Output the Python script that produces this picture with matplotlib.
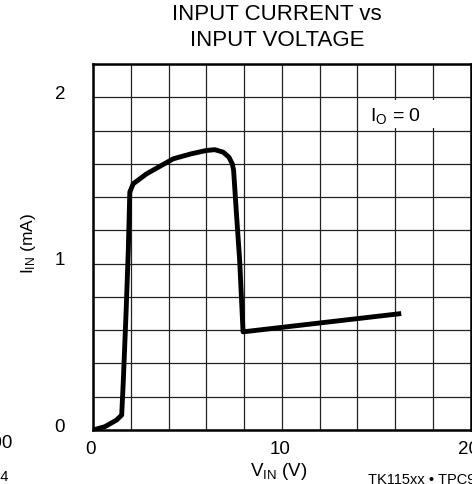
import matplotlib
matplotlib.use("Agg")
import matplotlib.pyplot as plt
import matplotlib.transforms as mtransforms
from matplotlib.patches import Rectangle

plt.rcParams['font.family'] = ['Liberation Sans', 'DejaVu Sans']
plt.rcParams['mathtext.fontset'] = 'custom'
plt.rcParams['mathtext.rm'] = 'Liberation Sans'
plt.rcParams['mathtext.it'] = 'Liberation Sans'

# Data (V_IN in volts, I_IN in mA)
v_in = [0.0, 0.63, 1.25, 1.52, 1.6, 1.75, 1.87, 1.95, 2.13, 2.84, 4.25, 5.2, 6.0,
        6.45, 6.9, 7.2, 7.38, 7.45, 7.6, 7.77, 7.95, 16.33]
i_in = [0.0, 0.02, 0.06, 0.09, 0.28, 0.70, 1.08, 1.43, 1.48, 1.54, 1.63, 1.66, 1.68,
        1.685, 1.67, 1.64, 1.60, 1.56, 1.30, 1.02, 0.59, 0.70]

x_ticks = [0, 10, 20]
y_ticks = [0, 1, 2]
x_grid = [0, 2, 4, 6, 8, 10, 12, 14, 16, 18, 20]
y_grid = [0, 0.2, 0.4, 0.6, 0.8, 1.0, 1.2, 1.4, 1.6, 1.8, 2.0, 2.2]

W, H = 472, 484
fig = plt.figure(figsize=(W / 100, H / 100), dpi=100)
ax = fig.add_axes([93 / W, 1 - 430 / H, 377.5 / W, 366 / H])

ax.set_xlim(0, 20)
ax.set_ylim(0, 2.2)
for xg in x_grid:
    ax.axvline(xg, color='#222222', lw=0.9, zorder=1)
for yg in y_grid:
    ax.axhline(yg, color='#222222', lw=0.9, zorder=1)

ax.add_patch(Rectangle((14.3, 1.815), 5.6, 0.17, facecolor='white',
                       edgecolor='none', zorder=2))
ax.text(14.7, 1.89, r'$\mathregular{I_O}$ = 0', fontsize=14, va='center', ha='left', zorder=3)

ax.plot(v_in, i_in, color='black', lw=3.5, solid_joinstyle='round',
        solid_capstyle='butt', zorder=4)

for s in ax.spines.values():
    s.set_linewidth(1.8)
    s.set_zorder(5)

ax.set_xticks(x_ticks)
ax.set_yticks(y_ticks)
ax.set_xticklabels([str(t) for t in x_ticks])
ax.set_yticklabels([str(t) for t in y_ticks])
ax.tick_params(length=0, labelsize=13.5, pad=8)
ax.tick_params(axis='y', pad=20)
off = mtransforms.ScaledTranslation(0, 5 / 100, fig.dpi_scale_trans)
for lab in ax.get_yticklabels():
    lab.set_transform(lab.get_transform() + off)
xoff = mtransforms.ScaledTranslation(-2 / 100, 0, fig.dpi_scale_trans)
for lab in ax.get_xticklabels():
    lab.set_transform(lab.get_transform() + xoff)

fig.text(277 / W, 1 - 15 / H, 'INPUT CURRENT vs', ha='center', va='center', fontsize=16)
fig.text(277 / W, 1 - 40 / H, 'INPUT VOLTAGE', ha='center', va='center', fontsize=16)

fig.text(279 / W, 1 - 472 / H, r'$\mathregular{V_{IN}}$ (V)', ha='center', va='center', fontsize=13.5)
fig.text(29 / W, 1 - 243 / H, r'$\mathregular{I_{IN}}$ (mA)', ha='center', va='center',
         fontsize=12.5, rotation=90)

fig.text(368 / W, 1 - 480 / H, 'TK115xx • TPC9-5', ha='left', va='center', fontsize=10.5)
fig.text(13 / W, 1 - 443 / H, '100', ha='right', va='center', fontsize=13.5)
fig.text(8 / W, 1 - 477 / H, 'TK115xx • TPC9-4', ha='right', va='center', fontsize=10.5)

fig.savefig('out.png', dpi=100)
